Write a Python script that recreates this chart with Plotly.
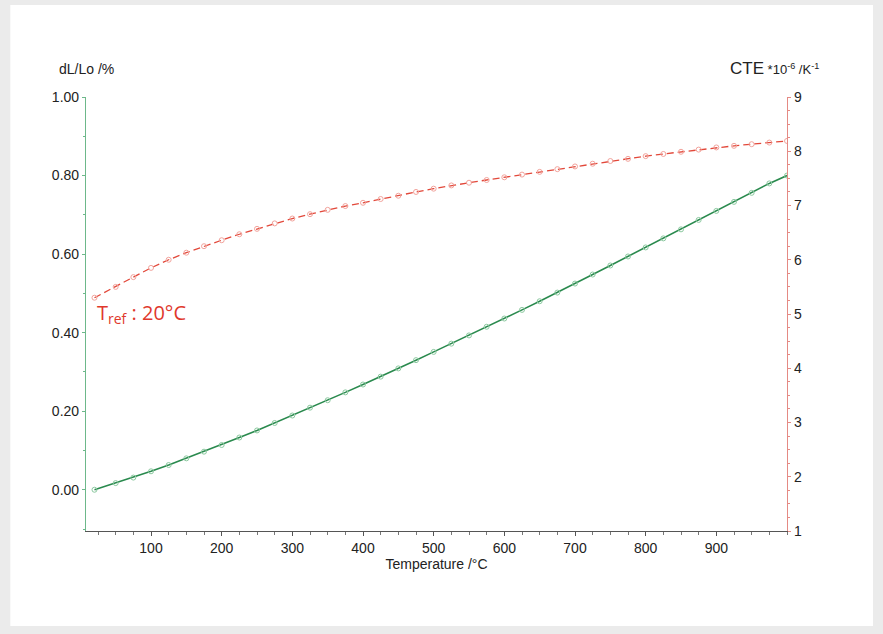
import plotly.graph_objects as go

temps = [20, 50, 75, 100, 125, 150, 175, 200, 225, 250, 275, 300, 325, 350, 375, 400,
         425, 450, 475, 500, 525, 550, 575, 600, 625, 650, 675, 700, 725, 750, 775, 800,
         825, 850, 875, 900, 925, 950, 975, 1000]

dl_lo = [0.000, 0.017, 0.031, 0.047, 0.063, 0.080, 0.097, 0.114, 0.133, 0.151, 0.170,
         0.189, 0.209, 0.228, 0.248, 0.268, 0.288, 0.309, 0.330, 0.351, 0.372, 0.393,
         0.415, 0.436, 0.458, 0.480, 0.502, 0.525, 0.548, 0.571, 0.594, 0.617, 0.640,
         0.663, 0.687, 0.710, 0.733, 0.756, 0.780, 0.800]

cte = [5.30, 5.50, 5.68, 5.85, 6.00, 6.13, 6.25, 6.36, 6.47, 6.57, 6.67, 6.76, 6.84,
       6.92, 6.99, 7.05, 7.12, 7.18, 7.25, 7.31, 7.37, 7.42, 7.47, 7.52, 7.57, 7.62,
       7.67, 7.72, 7.77, 7.82, 7.86, 7.91, 7.95, 7.99, 8.03, 8.07, 8.10, 8.13, 8.16, 8.19]

x_ticks = [100, 200, 300, 400, 500, 600, 700, 800, 900]
left_ticks = [0.0, 0.2, 0.4, 0.6, 0.8, 1.0]
right_ticks = [1, 2, 3, 4, 5, 6, 7, 8, 9]

GREEN = "#2a8a4e"
GREEN_AX = "#6db88a"
RED = "#e2483a"
RED_AX = "#e58a84"
FONT = "Liberation Sans, Arial, sans-serif"

fig = go.Figure()
fig.add_trace(go.Scatter(
    x=temps, y=dl_lo, mode="lines+markers", yaxis="y",
    line=dict(color=GREEN, width=1.6),
    marker=dict(symbol="circle-open", size=5, color="#8cc9a0", line=dict(width=1)),
    showlegend=False, hoverinfo="x+y"))
fig.add_trace(go.Scatter(
    x=temps, y=cte, mode="lines+markers", yaxis="y2",
    line=dict(color=RED, width=1.3, dash="7px,4px"),
    marker=dict(symbol="circle-open", size=5, color="#f2a39c", line=dict(width=1)),
    showlegend=False, hoverinfo="x+y"))

# outer frame
fig.add_shape(type="rect", xref="paper", yref="paper",
              x0=-0.108, x1=1.1227, y0=-0.219, y1=1.212,
              fillcolor="white", line=dict(width=0), layer="below")

fig.update_layout(
    width=883, height=634,
    paper_bgcolor="#ebebeb", plot_bgcolor="white",
    margin=dict(l=86, r=96, t=97, b=103),
    font=dict(family=FONT, size=14, color="#222"),
    xaxis=dict(range=[8, 1000], tickvals=x_ticks, showgrid=False, zeroline=False,
               showline=True, linecolor="#555", linewidth=1.2,
               ticks="outside", ticklen=4, tickcolor="#555",
               minor=dict(dtick=25, tick0=0, ticks="outside", ticklen=3, tickcolor="#777"),
               tickfont=dict(size=14, color="#222"),
               title=dict(text="Temperature /°C", font=dict(size=14, color="#222"), standoff=0)),
    yaxis=dict(range=[-0.105, 1.0], tickvals=left_ticks, tickformat=".2f",
               showgrid=False, zeroline=False, showline=True, linecolor=GREEN_AX, linewidth=1.2,
               ticks="outside", ticklen=3, tickcolor=GREEN_AX,
               minor=dict(dtick=0.1, tick0=0, ticks="outside", ticklen=2, tickcolor=GREEN_AX),
               tickfont=dict(size=14, color="#222")),
    yaxis2=dict(range=[1, 9], tickvals=right_ticks, overlaying="y", side="right",
                showgrid=False, zeroline=False, showline=True, linecolor=RED_AX, linewidth=1.2,
                ticks="outside", ticklen=3, tickcolor=RED_AX,
                minor=dict(dtick=0.25, tick0=0, ticks="outside", ticklen=2, tickcolor=RED_AX),
                tickfont=dict(size=14, color="#222")),
)

fig.add_annotation(x=0.0, y=1.0, xref="paper", yref="paper", xanchor="right", yanchor="bottom",
                   xshift=30, yshift=18, showarrow=False,
                   text="dL/Lo /%", font=dict(size=14, color="#222"))
fig.add_annotation(x=1.0, y=1.0, xref="paper", yref="paper", xanchor="right", yanchor="bottom",
                   xshift=34, yshift=17, showarrow=False,
                   text="<span style='font-size:17px'>CTE</span> *10<sup>-6</sup> /K<sup>-1</sup>",
                   font=dict(size=13, color="#222"))
fig.add_annotation(x=0.013, y=0.49, xref="paper", yref="y", xanchor="left", yanchor="top",
                   showarrow=False, text="T<sub>ref</sub> : 20°C",
                   font=dict(size=20, color="#e0382c", family="Open Sans, Liberation Sans, sans-serif"))

fig.write_html("out.html", config={"displayModeBar": False},
               post_script="document.body.style.margin='0';document.body.style.background='#ebebeb';")
